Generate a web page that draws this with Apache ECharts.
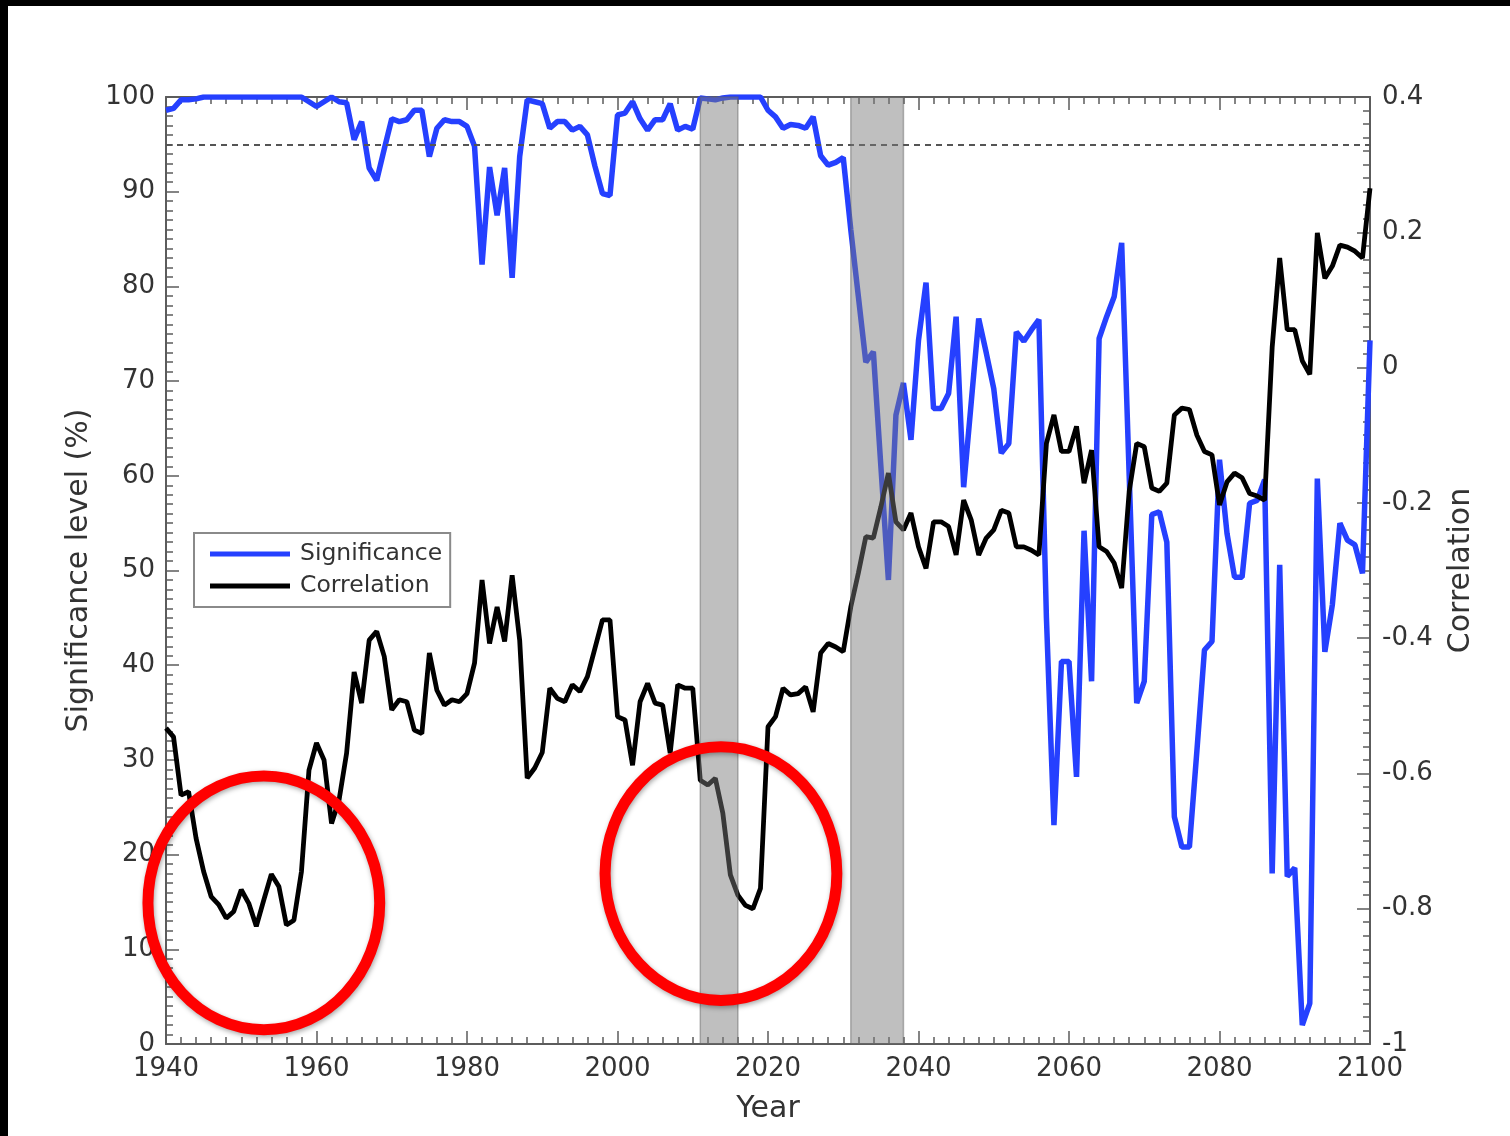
<!DOCTYPE html>
<html>
<head>
<meta charset="utf-8">
<script src="https://cdn.jsdelivr.net/npm/echarts@6/dist/echarts.min.js"></script>
<style>
  html, body { margin: 0; padding: 0; background: #fff; overflow: hidden; }
  #chart { width: 1510px; height: 1136px; }
</style>
</head>
<body>
<div id="chart"></div>
<script>
// Annual values, 1940-2100
const startYear = 1940;

// Significance level (%) per year
const significance = [
  98.6, 98.8, 99.7, 99.7, 99.8, 100, 100, 100, 100, 100,        // 1940s
  100, 100, 100, 100, 100, 100, 100, 100, 100, 99.5,            // 1950s
  99.0, 99.5, 100, 99.5, 99.4, 95.5, 97.4, 92.5, 91.2, 94.5,    // 1960s
  97.7, 97.4, 97.6, 98.6, 98.6, 93.7, 96.7, 97.6, 97.4, 97.4,   // 1970s
  96.9, 94.8, 82.3, 92.6, 87.5, 92.5, 80.9, 93.7, 99.7, 99.5,   // 1980s
  99.3, 96.7, 97.4, 97.4, 96.5, 96.9, 96.0, 92.7, 89.8, 89.6,   // 1990s
  98.1, 98.3, 99.5, 97.7, 96.5, 97.6, 97.6, 99.3, 96.5, 96.9,   // 2000s
  96.6, 99.9, 99.8, 99.7, 99.9, 100, 100, 100, 100, 100,        // 2010s
  98.6, 97.9, 96.7, 97.1, 97.0, 96.7, 97.9, 93.8, 92.8, 93.1,   // 2020s
  93.6, 86.0, 79.0, 72.0, 73.1, 61.0, 49.0, 66.4, 69.8, 63.8,   // 2030s
  74.3, 80.4, 67.1, 67.1, 68.7, 76.8, 58.8, 67.7, 76.6, 73.0,   // 2040s
  69.2, 62.4, 63.4, 75.2, 74.2, 75.4, 76.5, 45.0, 23.1, 40.4,   // 2050s
  40.4, 28.2, 54.2, 38.3, 74.5, 76.8, 78.9, 84.6, 60.0, 36.0,   // 2060s
  38.3, 55.9, 56.2, 53.0, 24.0, 20.8, 20.8, 31.0, 41.6, 42.5,   // 2070s
  61.7, 53.9, 49.3, 49.3, 57.1, 57.4, 59.6, 18.0, 50.6, 17.7,   // 2080s
  18.6, 2.0, 4.3, 59.7, 41.4, 46.4, 55.0, 53.2, 52.7, 49.7,     // 2090s
  74.3                                                          // 2100
];

// Correlation per year
const correlation = [
  -0.533, -0.546, -0.632, -0.627, -0.696, -0.745, -0.782, -0.794, -0.814, -0.804,
  -0.772, -0.792, -0.826, -0.787, -0.749, -0.767, -0.824, -0.817, -0.745, -0.595,
  -0.555, -0.580, -0.674, -0.639, -0.570, -0.450, -0.496, -0.403, -0.390, -0.427,
  -0.506, -0.491, -0.494, -0.536, -0.541, -0.422, -0.477, -0.499, -0.491, -0.494,
  -0.482, -0.437, -0.314, -0.408, -0.354, -0.405, -0.307, -0.403, -0.607, -0.592,
  -0.569, -0.474, -0.489, -0.494, -0.469, -0.479, -0.457, -0.415, -0.373, -0.373,
  -0.516, -0.521, -0.588, -0.494, -0.467, -0.496, -0.499, -0.570, -0.469, -0.474,
  -0.474, -0.610, -0.617, -0.607, -0.659, -0.750, -0.780, -0.795, -0.800, -0.770,
  -0.531, -0.516, -0.474, -0.484, -0.482, -0.472, -0.509, -0.422, -0.408, -0.413,
  -0.420, -0.354, -0.304, -0.250, -0.252, -0.206, -0.156, -0.228, -0.240, -0.215,
  -0.265, -0.297, -0.228, -0.228, -0.235, -0.277, -0.196, -0.225, -0.277, -0.252,
  -0.240, -0.211, -0.215, -0.265, -0.265, -0.270, -0.277, -0.112, -0.070, -0.124,
  -0.124, -0.087, -0.171, -0.122, -0.265, -0.272, -0.289, -0.326, -0.183, -0.112,
  -0.117, -0.178, -0.183, -0.171, -0.070, -0.060, -0.062, -0.100, -0.124, -0.129,
  -0.203, -0.169, -0.156, -0.163, -0.186, -0.190, -0.196, 0.030, 0.162, 0.056,
  0.056, 0.010, -0.010, 0.199, 0.132, 0.150, 0.181, 0.178, 0.172, 0.162,
  0.265
];

// Shaded periods [from, to] in years
const shadedPeriods = [[2011, 2016], [2031, 2038]];

// Dashed reference level (%)
const thresholdLevel = 95;

// Highlight rings: [centre year, centre level %, half-width in years, half-height in %]
const highlights = [
  [1953.0, 14.9, 15.4, 13.4],
  [2013.75, 18.0, 15.4, 13.4]
];

const FONT = 'DejaVu Sans';
const AXIS_GRAY = '#5c5c5c';
const TEXT_GRAY = '#333333';
const SIG_BLUE = '#2540ff';

const sigData = significance.map((v, i) => [startYear + i, v]);
const corrData = correlation.map((v, i) => [startYear + i, v]);

const tickBase = {
  axisLine: { show: true, onZero: false, lineStyle: { color: AXIS_GRAY, width: 2 } },
  axisTick: { show: true, inside: true, length: 13, lineStyle: { color: AXIS_GRAY, width: 1.5 } },
  minorTick: { show: true, splitNumber: 10, length: 7, lineStyle: { color: AXIS_GRAY, width: 1.5 } },
  splitLine: { show: false },
  minorSplitLine: { show: false }
};
const labelBase = { fontFamily: FONT, fontSize: 26, color: TEXT_GRAY };
const nameBase = { fontFamily: FONT, fontSize: 30, color: TEXT_GRAY };

const chart = echarts.init(document.getElementById('chart'), null, { renderer: 'canvas' });

chart.setOption({
  animation: false,
  backgroundColor: '#ffffff',
  grid: { left: 166, top: 97, right: 140, bottom: 92 },
  graphic: [
    { type: 'rect', shape: { x: 0, y: 0, width: 1510, height: 6 }, style: { fill: '#000' }, z: 100 },
    { type: 'rect', shape: { x: 0, y: 0, width: 8, height: 1136 }, style: { fill: '#000' }, z: 100 }
  ],
  legend: {
    orient: 'vertical',
    left: 194,
    top: 533,
    icon: 'rect',
    itemWidth: 80,
    itemHeight: 5,
    itemGap: 8,
    padding: [9, 8, 9, 16],
    borderColor: '#8a8a8a',
    borderWidth: 2,
    backgroundColor: '#ffffff',
    textStyle: { fontFamily: FONT, fontSize: 23.5, color: TEXT_GRAY, padding: [0, 0, 0, 5] },
    data: ['Significance', 'Correlation'],
    z: 20
  },
  xAxis: [
    Object.assign({}, tickBase, {
      type: 'value', position: 'bottom', min: 1940, max: 2100, interval: 20,
      axisLabel: Object.assign({ margin: 12, formatter: v => String(v) }, labelBase),
      name: 'Year', nameLocation: 'middle', nameGap: 50, nameTextStyle: nameBase
    }),
    Object.assign({}, tickBase, {
      type: 'value', position: 'top', min: 1940, max: 2100, interval: 20,
      axisLabel: { show: false }
    })
  ],
  yAxis: [
    Object.assign({}, tickBase, {
      type: 'value', position: 'left', min: 0, max: 100, interval: 10,
      axisLabel: Object.assign({ margin: 11, formatter: v => String(v) }, labelBase),
      name: 'Significance level (%)', nameLocation: 'middle', nameGap: 72, nameTextStyle: nameBase
    }),
    Object.assign({}, tickBase, {
      type: 'value', position: 'right', min: -1, max: 0.4, interval: 0.2,
      axisLabel: Object.assign({ margin: 12, formatter: v => String(+v.toFixed(1)) }, labelBase),
      name: 'Correlation', nameLocation: 'middle', nameGap: 76, nameTextStyle: nameBase
    })
  ],
  series: [
    {
      name: 'Significance',
      type: 'line',
      xAxisIndex: 0, yAxisIndex: 0,
      data: sigData,
      symbol: 'none',
      lineStyle: { color: SIG_BLUE, width: 5.5 },
      itemStyle: { color: SIG_BLUE },
      z: 3,
      markLine: {
        silent: true,
        symbol: 'none',
        label: { show: false },
        lineStyle: { color: '#555', width: 2, type: [6, 5] },
        data: [{ yAxis: thresholdLevel }]
      }
    },
    {
      name: 'Correlation',
      type: 'line',
      xAxisIndex: 0, yAxisIndex: 1,
      data: corrData,
      symbol: 'none',
      lineStyle: { color: '#000', width: 4.8 },
      itemStyle: { color: '#000' },
      z: 4
    },
    {
      name: 'periods',
      type: 'custom',
      xAxisIndex: 0, yAxisIndex: 0,
      data: shadedPeriods,
      encode: { x: [0, 1] },
      silent: true,
      z: 8,
      renderItem: (params, api) => {
        const p0 = api.coord([api.value(0), 100]);
        const p1 = api.coord([api.value(1), 0]);
        return {
          type: 'rect',
          shape: { x: p0[0], y: p0[1], width: p1[0] - p0[0], height: p1[1] - p0[1] },
          style: { fill: 'rgba(122,122,122,0.48)', stroke: 'rgba(95,95,95,0.45)', lineWidth: 1.5 }
        };
      }
    },
    {
      name: 'rings',
      type: 'custom',
      xAxisIndex: 0, yAxisIndex: 0,
      data: highlights,
      encode: { x: 0, y: 1 },
      silent: true,
      clip: false,
      z: 12,
      renderItem: (params, api) => {
        const c = api.coord([api.value(0), api.value(1)]);
        const s = api.size([api.value(2), api.value(3)]);
        return {
          type: 'ellipse',
          shape: { cx: c[0], cy: c[1], rx: s[0], ry: s[1] },
          style: {
            fill: 'none', stroke: '#ff0000', lineWidth: 11,
            shadowBlur: 5, shadowColor: 'rgba(0,0,0,0.35)', shadowOffsetX: 1, shadowOffsetY: 2
          }
        };
      }
    }
  ]
});
</script>
</body>
</html>
